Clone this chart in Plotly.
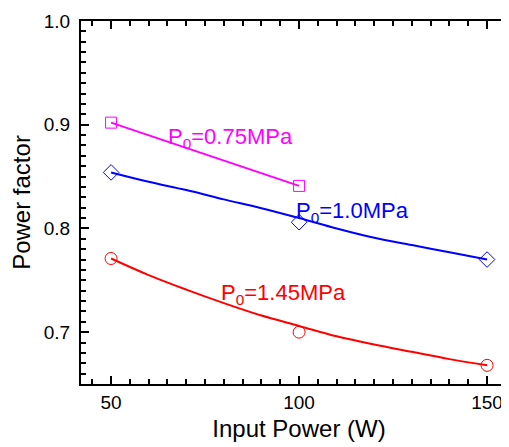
import plotly.graph_objects as go

# measured points
power = [50, 100, 150]
pf_075 = [0.902, 0.841]
pf_100 = [0.854, 0.806, 0.770]
pf_145 = [0.771, 0.700, 0.668]

# fitted curves
fit_x = [50, 60, 70, 80, 90, 100, 110, 120, 130, 140, 150]
fit_100 = [0.854, 0.845, 0.837, 0.828, 0.8195, 0.810, 0.800, 0.791, 0.784, 0.777, 0.770]
fit_145 = [0.771, 0.755, 0.741, 0.728, 0.716, 0.706, 0.696, 0.688, 0.681, 0.674, 0.668]
fit_075_x = [50, 100]
fit_075 = [0.902, 0.841]

labels = ["P<sub>0</sub>=0.75MPa", "P<sub>0</sub>=1.0MPa", "P<sub>0</sub>=1.45MPa"]
label_x = [64.6, 98.7, 78.6]
label_y = [0.8875, 0.8155, 0.7365]

MAG, BLUE, RED = "#FF00FF", "#0000FF", "#FF0000"
FONT = "Liberation Sans, Arial, sans-serif"

fig = go.Figure()
fig.add_trace(go.Scatter(x=fit_075_x, y=fit_075, mode="lines",
                         line=dict(color=MAG, width=2), showlegend=False))
fig.add_trace(go.Scatter(x=fit_x, y=fit_100, mode="lines", line_shape="spline",
                         line=dict(color=BLUE, width=2), showlegend=False))
fig.add_trace(go.Scatter(x=fit_x, y=fit_145, mode="lines", line_shape="spline",
                         line=dict(color=RED, width=2), showlegend=False))
fig.add_trace(go.Scatter(x=power[:2], y=pf_075, mode="markers",
                         marker=dict(symbol="square-open", size=11, color=MAG, line=dict(width=1)),
                         showlegend=False))
fig.add_trace(go.Scatter(x=power, y=pf_100, mode="markers",
                         marker=dict(symbol="diamond-open", size=12, color=BLUE, line=dict(width=1)),
                         showlegend=False))
fig.add_trace(go.Scatter(x=power, y=pf_145, mode="markers",
                         marker=dict(symbol="circle-open", size=12, color=RED, line=dict(width=1)),
                         showlegend=False))

for txt, lx, ly, c in zip(labels, label_x, label_y, [MAG, BLUE, RED]):
    fig.add_annotation(x=lx, y=ly, text=txt, showarrow=False, xanchor="left", yanchor="middle",
                       font=dict(family=FONT, size=22, color=c))

axis_common = dict(showline=True, linecolor="black", linewidth=2, ticks="inside",
                   tickcolor="black", tickwidth=2, ticklen=8, showgrid=False, zeroline=False,
                   tickfont=dict(family=FONT, size=19, color="black"))

# page body has an 8px margin: plot area in the window spans x 81..517(cut), y 21..384
fig.update_xaxes(range=[42.0, 157.96], dtick=50, tick0=0, mirror="ticks", ticklabelstandoff=0,
                 minor=dict(ticks="inside", ticklen=5, tickwidth=2, tickcolor="black", dtick=5),
                 title=dict(text="Input Power (W)", font=dict(family=FONT, size=24, color="black"),
                            standoff=8),
                 **axis_common)
fig.update_yaxes(range=[0.65, 1.0], dtick=0.1, tick0=0, tickformat=".1f", ticklabelstandoff=5,
                 minor=dict(ticks="inside", ticklen=5, tickwidth=2, tickcolor="black", dtick=0.01),
                 title=dict(text="Power factor", font=dict(family=FONT, size=24, color="black"),
                            standoff=8),
                 **axis_common)

fig.update_layout(width=509, height=447, margin=dict(l=73, r=0, t=13, b=71),
                  plot_bgcolor="white", paper_bgcolor="white")

fig.write_html("out.html")
